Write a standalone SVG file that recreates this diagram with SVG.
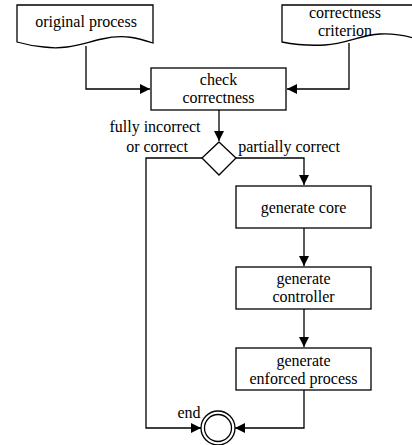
<svg xmlns="http://www.w3.org/2000/svg" width="412" height="445" viewBox="0 0 412 445">
  <style>
    .shape { fill: #fff; stroke: #000; stroke-width: 1.3; }
    .edge { fill: none; stroke: #000; stroke-width: 1.3; }
    text { font-family: 'Liberation Serif', 'Times New Roman', 'DejaVu Serif', serif; font-size: 16px; fill: #000; text-anchor: middle; }
  </style>
  <defs>
    <marker id="arrow" markerUnits="userSpaceOnUse" markerWidth="11" markerHeight="10" refX="10" refY="5" orient="auto">
      <path d="M0,0 L10,5 L0,10 Z" fill="#000"/>
    </marker>
  </defs>
  <rect width="412" height="445" fill="#fff"/>

  <g id="connectors">
    <path class="edge" d="M86,46 V89 H150" marker-end="url(#arrow)"/>
    <path class="edge" d="M349,43 V89 H287" marker-end="url(#arrow)"/>
    <path class="edge" d="M219,110 V141" marker-end="url(#arrow)"/>
    <path class="edge" d="M236,158 H304 V185" marker-end="url(#arrow)"/>
    <path class="edge" d="M304,228 V266" marker-end="url(#arrow)"/>
    <path class="edge" d="M304,309 V347" marker-end="url(#arrow)"/>
    <path class="edge" d="M304,390 V428 H235" marker-end="url(#arrow)"/>
    <path class="edge" d="M202,158 H146 V428 H201" marker-end="url(#arrow)"/>
  </g>

  <g id="original-process">
    <path class="shape" d="M17,5 H153 V43 C138,38 124,34 102,39 C80,44 66,50 44,47 C32,46 24,44 17,42 Z"/>
    <text x="86" y="27">original process</text>
  </g>

  <g id="correctness-criterion">
    <path class="shape" d="M282,5 H420 V40 C408,36 396,33 380,34 C360,35 346,44 325,45 C305,46 292,44 282,42 Z"/>
    <text x="345" y="18">correctness</text>
    <text x="345" y="36">criterion</text>
  </g>

  <g id="check-correctness">
    <rect class="shape" x="151" y="68" width="135" height="42"/>
    <text x="218.5" y="85">check</text>
    <text x="218.5" y="103">correctness</text>
  </g>

  <g id="decision">
    <path class="shape" d="M219,142 L236,158 L219,175 L202,158 Z"/>
    <text x="155" y="132">fully incorrect</text>
    <text x="157" y="152">or correct</text>
    <text x="289" y="152">partially correct</text>
  </g>

  <g id="generate-core">
    <rect class="shape" x="236" y="186" width="135" height="42"/>
    <text x="303.5" y="213">generate core</text>
  </g>

  <g id="generate-controller">
    <rect class="shape" x="236" y="267" width="135" height="42"/>
    <text x="303.5" y="284">generate</text>
    <text x="303.5" y="302">controller</text>
  </g>

  <g id="generate-enforced-process">
    <rect class="shape" x="236" y="348" width="135" height="42"/>
    <text x="303.5" y="366">generate</text>
    <text x="303.5" y="384">enforced process</text>
  </g>

  <g id="end">
    <circle class="shape" cx="218" cy="428" r="17"/>
    <circle class="shape" cx="218" cy="428" r="13.5"/>
    <text x="189" y="418">end</text>
  </g>
</svg>
